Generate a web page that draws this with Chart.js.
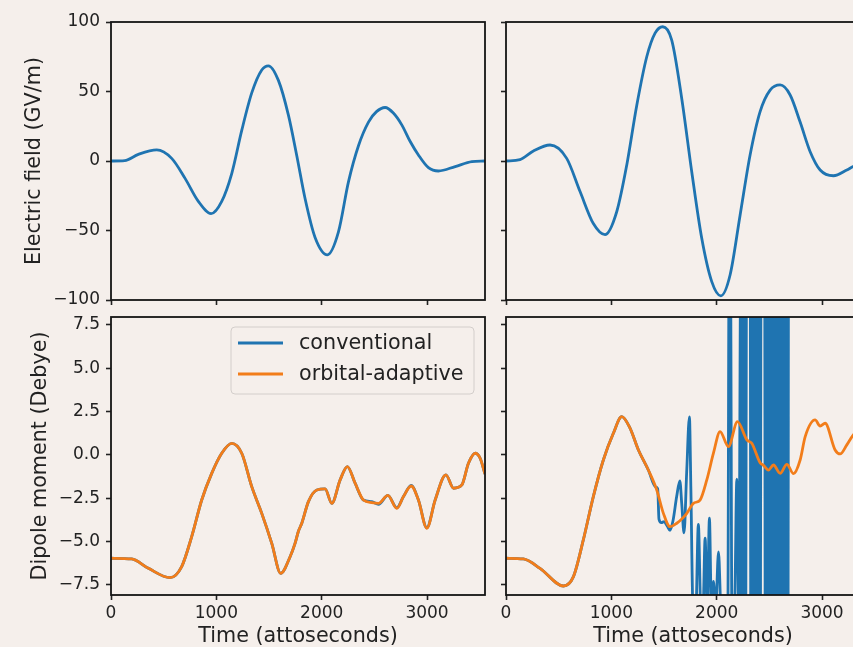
<!DOCTYPE html>
<html><head><meta charset="utf-8">
<script src="https://cdn.jsdelivr.net/npm/chart.js@4.4.0/dist/chart.umd.min.js"></script>
<style>
html,body{margin:0;padding:0;background:#f5efeb;overflow:hidden;width:853px;height:647px;position:relative;}
canvas{position:absolute;}
</style></head><body>
<canvas id="tl" width="495" height="310" style="left:0;top:0;width:495px;height:310px"></canvas>
<canvas id="tr" width="390" height="310" style="left:495px;top:0;width:390px;height:310px"></canvas>
<canvas id="bl" width="495" height="337" style="left:0;top:310px;width:495px;height:337px"></canvas>
<canvas id="br" width="390" height="337" style="left:495px;top:310px;width:390px;height:337px"></canvas>
<script>
// ---- tick labels / categories ----
const xTicks = [0, 1000, 2000, 3000];
const fieldTicks = [-100, -50, 0, 50, 100];
const dipoleTicks = [-7.5, -5, -2.5, 0, 2.5, 5, 7.5];
const seriesLabels = ['conventional', 'orbital-adaptive'];

// ---- electric field, left pulse ----
const timeFieldLeft = [0,130,260,434,576,703,829,950,1051,1146,1241,1336,1431,1494,1589,1684,1763,1842,1937,2054,2159,2254,2349,2444,2520,2602,2680,2760,2840,2918,3013,3108,3267,3425,3550];
const fieldLeft = [0,0.3,4.8,8,1.9,-12.5,-29,-37.8,-29,-9,22,49,65.5,68.5,58,33,4,-27,-55,-67.5,-51,-15,11,28,35.5,38.5,34.5,26,14,4.3,-4.8,-7.2,-4,-0.5,0];

// ---- electric field, right pulse ----
const timeFieldRight = [0,133,260,418,576,703,829,940,1051,1146,1241,1336,1415,1488,1573,1668,1763,1858,1953,2039,2127,2222,2317,2412,2507,2602,2697,2792,2887,2982,3108,3235,3295,3420,3550];
const fieldRight = [0,1,7.2,11.5,1.9,-22,-45,-53,-36.5,-3,40,75,92,96.6,87,45,-7.7,-55.6,-86.8,-97,-82,-39,4.3,35.5,51,54.7,47.5,28,6.7,-6.5,-10.6,-6.5,-4,-1,0];

// ---- dipole, left ----
const timeDipoleLeft = [0,196,355,560,671,766,861,956,1051,1146,1241,1336,1431,1526,1611,1700,1747,1779,1811,1874,1954,2032,2096,2175,2244,2317,2396,2476,2539,2628,2713,2776,2849,2918,2998,3077,3179,3251,3330,3393,3457,3504,3550];
const dipoleOALeft = [-5.96,-6.0,-6.54,-7.08,-6.44,-4.71,-2.6,-1.06,0.1,0.67,0.1,-1.83,-3.37,-5.1,-6.83,-5.87,-5.1,-4.4,-3.94,-2.69,-2.02,-1.96,-2.79,-1.44,-0.67,-1.63,-2.6,-2.75,-2.79,-2.33,-3.08,-2.4,-1.79,-2.6,-4.23,-2.6,-1.15,-1.92,-1.73,-0.48,0.1,-0.19,-1.1];
const dipoleConvLeft = [-5.96,-6.0,-6.54,-7.08,-6.44,-4.71,-2.6,-1.06,0.1,0.67,0.1,-1.83,-3.37,-5.1,-6.83,-5.87,-5.1,-4.4,-3.94,-2.69,-2.02,-1.96,-2.79,-1.44,-0.67,-1.63,-2.6,-2.7,-2.85,-2.33,-3.05,-2.4,-1.75,-2.6,-4.2,-2.6,-1.15,-1.92,-1.73,-0.48,0.1,-0.19,-1.1];

// ---- dipole, right ----
const timeDipoleRight = [0,165,323,545,640,734,829,924,1019,1099,1178,1257,1351,1431,1494,1557,1621,1684,1716,1779,1842,1906,1969,2032,2111,2197,2286,2333,2412,2444,2491,2539,2602,2666,2729,2792,2840,2934,2982,3029,3124,3172,3235,3295,3380,3460,3550];
const dipoleOARight = [-5.96,-6.0,-6.54,-7.56,-7.02,-4.9,-2.4,-0.29,1.25,2.21,1.54,0.29,-0.87,-2.02,-3.37,-4.14,-3.94,-3.6,-3.37,-2.79,-2.6,-1.44,0.1,1.35,0.48,1.92,0.87,0.67,-0.45,-0.6,-0.87,-0.58,-1.06,-0.54,-1.08,-0.29,1.06,2.02,1.67,1.83,0.29,0.06,0.58,1.15,1.6,1.3,0.9];
const timeConvRight = [0,165,323,545,640,734,829,924,1019,1099,1178,1257,1351,1420,1440,1452,1475,1500,1530,1557,1585,1620,1650,1668,1690,1715,1741,1755,1775,1800,1826,1850,1870,1890,1910,1931,1950,1969,1990,2017,2040,2080,2105,2118,2130,2145,2170,2191,2210,
  2229,2238,2247,2256,2265,2274,2284,
  2318,2324,2333,2342,2351,2360,2369,2378,2387,2396,2405,2414,2421,
  2455,2461,2470,2479,2488,2497,2506,2515,2524,2533,2542,2551,2560,2569,2578,2587,2596,2605,2614,2623,2632,2641,2650,2659,2668,2677,2681];
const dipoleConvRight = [-5.96,-6.0,-6.54,-7.56,-7.02,-4.9,-2.4,-0.29,1.25,2.21,1.54,0.29,-0.87,-1.85,-1.95,-3.7,-3.9,-3.85,-4.1,-4.35,-3.8,-2.4,-1.5,-2.8,-4.5,-1.0,2.2,-2,-9,-9.5,-4.0,-9,-9,-4.8,-9,-3.65,-9,-7.3,-9,-5.6,-9,-10,-10,12,12,-10,-9,-1.4,-9,
  12,-12,12,-12,12,-12,12,
  12,-12,12,-12,12,-12,12,-12,12,-12,12,-12,12,
  12,-12,12,-12,12,-12,12,-12,12,-12,12,-12,12,-12,12,-12,12,-12,12,-12,12,-12,12,-12,12,-12,12];

// ---- styling ----
const BG = '#f5efeb', INK = '#222222', BLUE = '#1f74b1', ORANGE = '#f27d1a';
const TICK_FONT = {family: 'DejaVu Sans', size: 17, lineHeight: 1.2};
const TITLE_FONT = {family: 'DejaVu Sans', size: 20.7, lineHeight: 1.0};

const pts = (xs, ys) => xs.map((x, i) => ({x: x, y: ys[i]}));
const fmtInt = v => String(v).replace('-', '\u2212');
const fmtDec = v => Number(v).toFixed(1).replace('-', '\u2212');

const framePlugin = {
  id: 'frame',
  afterDatasetsDraw(chart) {
    const {ctx, chartArea: a} = chart;
    ctx.save();
    ctx.strokeStyle = '#151515';
    ctx.lineWidth = 1.8;
    ctx.strokeRect(a.left, a.top, a.right - a.left, a.bottom - a.top);
    ctx.restore();
  }
};

const innerLegend = {
  id: 'innerLegend',
  afterDraw(chart) {
    const ctx = chart.ctx;
    const bx = 231, by = 17, bw = 243, bh = 67, r = 4;
    ctx.save();
    ctx.beginPath();
    ctx.moveTo(bx + r, by);
    ctx.arcTo(bx + bw, by, bx + bw, by + bh, r);
    ctx.arcTo(bx + bw, by + bh, bx, by + bh, r);
    ctx.arcTo(bx, by + bh, bx, by, r);
    ctx.arcTo(bx, by, bx + bw, by, r);
    ctx.closePath();
    ctx.fillStyle = BG;
    ctx.fill();
    ctx.strokeStyle = '#d3cecb';
    ctx.lineWidth = 1;
    ctx.stroke();
    const ds = chart.data.datasets;
    ds.forEach((d, i) => {
      const y = by + 16 + i * 31;
      ctx.strokeStyle = d.borderColor;
      ctx.lineWidth = 2.8;
      ctx.beginPath();
      ctx.moveTo(238, y);
      ctx.lineTo(283, y);
      ctx.stroke();
      ctx.fillStyle = INK;
      ctx.font = '20.7px "DejaVu Sans"';
      ctx.textBaseline = 'middle';
      ctx.textAlign = 'left';
      ctx.fillText(d.label, 299, y + 0.5);
    });
    ctx.restore();
  }
};

function makePanel(id, o) {
  const grid = {drawOnChartArea: false, drawTicks: true, tickLength: 5, tickWidth: 1.6, tickColor: INK};
  return new Chart(document.getElementById(id), {
    type: 'line',
    data: {datasets: o.datasets},
    options: {
      responsive: false, animation: false, devicePixelRatio: 1, events: [],
      layout: {padding: o.padding},
      elements: {point: {radius: 0}, line: {borderWidth: 2.8, cubicInterpolationMode: 'monotone'}},
      plugins: {legend: {display: false}, tooltip: {enabled: false}},
      scales: {
        x: {
          type: 'linear', min: 0, max: 3550,
          afterBuildTicks: s => { s.ticks = xTicks.map(v => ({value: v})); },
          afterFit: s => { s.height = o.xHeight; s.paddingLeft = 0; s.paddingRight = 0; },
          ticks: {display: o.xLabels, color: INK, font: TICK_FONT, padding: 3, maxRotation: 0, autoSkip: false, callback: v => String(v)},
          grid: grid, border: {display: false},
          title: {display: !!o.xTitle, text: o.xTitle || '', color: INK, font: TITLE_FONT, padding: {top: 0, bottom: 0}}
        },
        y: {
          type: 'linear', min: o.yMin, max: o.yMax,
          afterBuildTicks: s => { s.ticks = o.yTicks.map(v => ({value: v})); },
          afterFit: s => { s.width = o.yWidth; s.paddingTop = 0; s.paddingBottom = 0; },
          ticks: {display: o.yLabels, color: INK, font: TICK_FONT, padding: 6, callback: o.yFmt},
          grid: grid, border: {display: false},
          title: {display: !!o.yTitle, text: o.yTitle || '', color: INK, font: TITLE_FONT, padding: {top: o.yTitlePad || 0, bottom: 0}}
        }
      }
    },
    plugins: [framePlugin].concat(o.extra || [])
  });
}

const lineDs = (label, xs, ys, color, order) => ({label: label, data: pts(xs, ys), borderColor: color, backgroundColor: color, fill: false, order: order});

makePanel('tl', {
  datasets: [lineDs('field', timeFieldLeft, fieldLeft, BLUE, 0)],
  padding: {top: 22, right: 10, bottom: 0, left: 0},
  yWidth: 111, xHeight: 10, yMin: -100, yMax: 100, yTicks: fieldTicks, yFmt: fmtInt,
  yLabels: true, xLabels: false, yTitle: 'Electric field (GV/m)', yTitlePad: 24.6
});
makePanel('tr', {
  datasets: [lineDs('field', timeFieldRight, fieldRight, BLUE, 0)],
  padding: {top: 22, right: 5, bottom: 0, left: 0},
  yWidth: 11, xHeight: 10, yMin: -100, yMax: 100, yTicks: fieldTicks, yFmt: fmtInt,
  yLabels: false, xLabels: false
});
makePanel('bl', {
  datasets: [lineDs(seriesLabels[0], timeDipoleLeft, dipoleConvLeft, BLUE, 1),
             lineDs(seriesLabels[1], timeDipoleLeft, dipoleOALeft, ORANGE, 0)],
  padding: {top: 7, right: 10, bottom: 0, left: 0},
  yWidth: 111, xHeight: 52, yMin: -8.08, yMax: 7.96, yTicks: dipoleTicks, yFmt: fmtDec,
  yLabels: true, xLabels: true, yTitle: 'Dipole moment (Debye)', yTitlePad: 30,
  xTitle: 'Time (attoseconds)', extra: [innerLegend]
});
makePanel('br', {
  datasets: [lineDs(seriesLabels[0], timeConvRight, dipoleConvRight, BLUE, 1),
             lineDs(seriesLabels[1], timeDipoleRight, dipoleOARight, ORANGE, 0)],
  padding: {top: 7, right: 5, bottom: 0, left: 0},
  yWidth: 11, xHeight: 52, yMin: -8.08, yMax: 7.96, yTicks: dipoleTicks, yFmt: fmtDec,
  yLabels: false, xLabels: true, xTitle: 'Time (attoseconds)'
});
</script>
</body></html>
